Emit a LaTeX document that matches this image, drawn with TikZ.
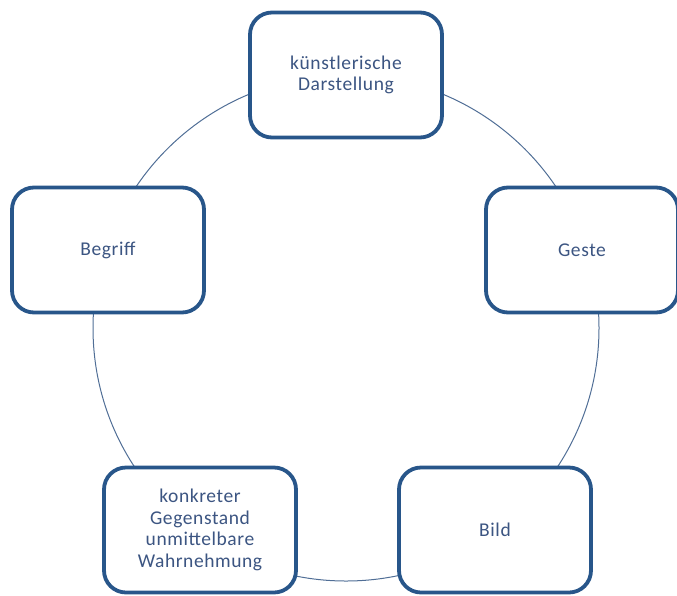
\documentclass[tikz,border=0pt]{standalone}
\usepackage{fontspec}
\setmainfont{Carlito}[LetterSpace=3]
\definecolor{boxblue}{RGB}{40,86,138}
\definecolor{txtblue}{RGB}{60,85,130}
\definecolor{ringblue}{RGB}{80,110,150}
\begin{document}
\begin{tikzpicture}[x=1pt,y=-1pt,
  cyclebox/.style={draw=boxblue, line width=3.8pt, rounded corners=22pt, fill=white,
    minimum width=192pt, minimum height=125pt, align=center, text=txtblue,
    font=\fontsize{19.5}{21.5}\selectfont, inner sep=2pt},
  ring/.style={draw=ringblue, line width=1pt}]
\useasboundingbox (0,0) rectangle (677,595);
\coordinate (c) at (346,328);
\draw[ring] (c) circle[radius=253pt];
\node[cyclebox] (kd) at (346,75) {künstlerische\\Darstellung};
\node[cyclebox] (ge) at (582,250) {Geste};
\node[cyclebox] (bi) at (495,530) {Bild};
\node[cyclebox] (ko) at (200,530) {konkreter\\Gegenstand\\unmittelbare\\Wahrnehmung};
\node[cyclebox] (be) at (108,250) {Begriff};
\end{tikzpicture}
\end{document}
